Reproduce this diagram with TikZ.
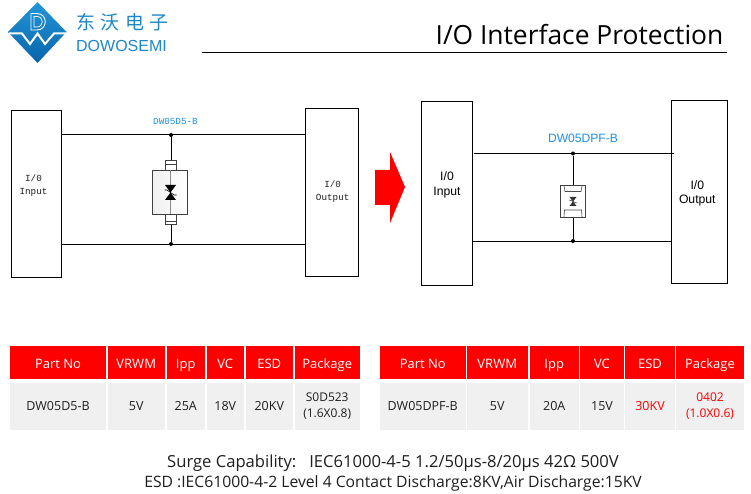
\documentclass[tikz,border=0pt]{standalone}
\usepackage{fontspec}
\setmainfont{Open Sans}
\newfontfamily\cjkf{Noto Sans CJK SC}
\newfontfamily\monof{Liberation Mono}
\newfontfamily\arialf{Liberation Sans}
\definecolor{hdrred}{RGB}{255,0,0}
\definecolor{cellgrey}{RGB}{240,240,240}
\definecolor{labblue}{RGB}{31,143,224}
\definecolor{logoblue}{RGB}{30,135,200}
\definecolor{logotop}{RGB}{35,150,215}
\definecolor{logobot}{RGB}{8,100,170}
\definecolor{darktext}{RGB}{30,30,30}
\newcommand{\fs}[2]{\fontsize{#1}{#2}\selectfont}
\tikzset{
 x=1pt,y=-1pt,
 iobox/.style={draw=black,line width=1pt,fill=white},
 wire/.style={draw=black,line width=1pt},
 dot/.style={circle,fill=black,inner sep=0pt,minimum size=4pt},
 hcell/.style={text=white,inner sep=0pt,anchor=base,font=\fs{13}{13}},
 bcell/.style={text=darktext,inner sep=0pt,anchor=base,font=\fs{12.5}{16}},
 pcell/.style={inner sep=0pt,align=center,font=\fs{12}{16}},
 monotext/.style={font=\monof\fs{9.3}{13},align=center,text=darktext,inner sep=0pt},
 sanstext/.style={font=\arialf\fs{12.2}{14.5},align=center,text=black,inner sep=0pt},
 devline/.style={draw=black!75,line width=0.8pt},
}
\begin{document}
\begin{tikzpicture}
\useasboundingbox (0,0) rectangle (751,494);
% logo
\shade[top color=logotop,bottom color=logobot] (37.5,2)--(66.5,32)--(37.5,63)--(8,32)--cycle;
\draw[white,line width=2pt] (9,33.5)--(22,33.5)--(30,44)--(37.5,33.5)--(45,44)--(54,33.5)--(66,33.5);
\draw[white,line width=0.9pt] (31,13.5)--(37,13.5) .. controls (48,13.5) and (48,30) .. (37,30)--(31,30)--cycle;
\draw[white,line width=0.7pt] (34,16.5)--(37,16.5) .. controls (44,16.5) and (44,27) .. (37,27)--(34,27)--cycle;
\node[inner sep=0pt,text=logoblue,font=\cjkf\fs{19}{19}] (logocn) at (122.5,22) {东\hspace{5.5pt}沃\hspace{5.5pt}电\hspace{5.5pt}子};
\node[inner sep=0pt,text=logoblue,font=\arialf\fs{16}{16}] (logoen) at (121.5,46) {DOWOSEMI};
% title
\node[inner sep=0pt,font=\fs{26.4}{26.4},text=black] (title) at (579.5,35) {I/O Interface Protection};
\coordinate (ruleA) at (202,52.5);
\coordinate (ruleB) at (727,52.5);
\draw[black,line width=0.8pt] (ruleA)--(ruleB);
% left circuit
\node[iobox,minimum width=50pt,minimum height=166.5pt,inner sep=0pt] (inL) at (36.5,193.75) {};
\node[iobox,minimum width=53pt,minimum height=167.5pt,inner sep=0pt] (outL) at (332,192.25) {};
\node[monotext] at (33.5,186) {I/0\\Input};
\node[monotext] at (332.7,192) {I/0\\Output};
\node[font=\monof\fs{9.3}{9.3},text=labblue,inner sep=0pt] (labL) at (175.5,121) {DW05D5-B};
\coordinate (tl1) at (61.5,135);\coordinate (tl2) at (305.5,135);
\coordinate (bl1) at (61.5,244);\coordinate (bl2) at (305.5,244);
\draw[wire] (tl1)--(tl2);
\draw[wire] (bl1)--(bl2);
\node[dot] (jlt) at (171,135) {};
\node[dot] (jlb) at (171,244) {};
\draw[wire] (jlt)--(jlb);
\draw[devline,fill=white] (165.5,160.5) rectangle (176.5,224.5);
\draw[devline] (165.5,164)--(176.5,164);
\draw[devline] (165.5,221)--(176.5,221);
\shade[left color=black!6,right color=white,draw=black!75,line width=1pt] (152.5,170.5) rectangle (187.5,214.5);
\draw[black!45,line width=1.2pt] (170.5,170.5)--(170.5,214.5);
\fill[black] (165,185)--(176,185)--(170.5,192.5)--cycle;
\fill[black] (165,200)--(176,200)--(170.5,192.5)--cycle;
\draw[black,line width=0.6pt] (164.5,190)--(167,190)--(170.5,192.5)--(174,195)--(176.5,195);
% arrow
\fill[hdrred] (375,170)--(390,170)--(390,152)--(405,187)--(390,223)--(390,205)--(375,205)--cycle;
% right circuit
\node[iobox,minimum width=51pt,minimum height=183.5pt,inner sep=0pt] (inR) at (447,193.75) {};
\node[iobox,minimum width=56pt,minimum height=182.5pt,inner sep=0pt] (outR) at (699.5,191.75) {};
\node[sanstext] at (447,185) {I/0\\Input};
\node[sanstext] at (697.3,193.5) {I/0\\Output};
\node[font=\arialf\fs{12.1}{12.1},text=labblue,inner sep=0pt] (labR) at (583,138) {DW05DPF-B};
\coordinate (tr1) at (474,153.5);\coordinate (tr2) at (674,153.5);
\coordinate (br1) at (472.5,241);\coordinate (br2) at (671.5,241);
\draw[wire] (tr1)--(tr2);
\draw[wire] (br1)--(br2);
\node[dot] (jrt) at (573,153.5) {};
\node[dot] (jrb) at (573,241) {};
\draw[wire] (jrt)--(jrb);
\draw[devline,fill=white] (560.5,185.5) rectangle (585.5,217.5);
\draw[black!70,line width=0.6pt] (564,186)--(565,191.5)--(581,191.5)--(582,186);
\draw[black!70,line width=0.6pt] (564,217)--(564.5,210)--(581.5,210)--(582,217);
\fill[black!80] (569.5,197)--(576.5,197)--(573,201.5)--cycle;
\fill[black!80] (569.5,206)--(576.5,206)--(573,201.5)--cycle;
\draw[black!80,line width=0.5pt] (569,200)--(571,200.5)--(575,202.5)--(577,203);
% table 1
\foreach \xa/\xb/\txt in {10/106/Part No,107.5/165/VRWM,166.5/205/Ipp,206.5/244/VC,245.5/293/ESD,294.5/360/Package}{
  \fill[hdrred] (\xa,346) rectangle (\xb,379);
  \node[hcell] at ({(\xa+\xb)/2},368) {\txt};
}
\foreach \xa/\xb/\txt in {10/106/DW05D5-B,107.5/165/5V,166.5/205/25A,206.5/244/18V,245.5/293/20KV}{
  \fill[cellgrey] (\xa,383) rectangle (\xb,430);
  \node[bcell] at ({(\xa+\xb)/2},410) {\txt};
}
\fill[cellgrey] (294.5,383) rectangle (360,430);
\node[pcell,text=darktext] (pk1) at (327.2,406) {S0D523\\(1.6X0.8)};
% table 2
\foreach \xa/\xb/\txt in {380/465.5/Part No,466.5/528/VRWM,529.5/579/Ipp,580/624/VC,625/675/ESD,676/744/Package}{
  \fill[hdrred] (\xa,346) rectangle (\xb,379);
  \node[hcell] at ({(\xa+\xb)/2},368) {\txt};
}
\foreach \xa/\xb/\txt/\col in {380/465.5/DW05DPF-B/darktext,466.5/528/5V/darktext,529.5/579/20A/darktext,580/624/15V/darktext,625/675/30KV/hdrred}{
  \fill[cellgrey] (\xa,383) rectangle (\xb,430);
  \node[bcell,text=\col] at ({(\xa+\xb)/2},410) {\txt};
}
\fill[cellgrey] (676,383) rectangle (744,430);
\node[pcell,text=hdrred] (pk2) at (710,406) {0402\\(1.0X0.6)};
% footer
\node[inner sep=0pt,font=\fs{16.6}{16.6},text=darktext] (f1) at (393,463) {Surge Capability:\ \ \ IEC61000-4-5 1.2/50μs-8/20μs 42Ω 500V};
\node[inner sep=0pt,font=\fs{15.7}{16},text=darktext] (f2) at (393,483) {ESD :IEC61000-4-2 Level 4 Contact Discharge:8KV,Air Discharge:15KV};
\end{tikzpicture}
\end{document}
